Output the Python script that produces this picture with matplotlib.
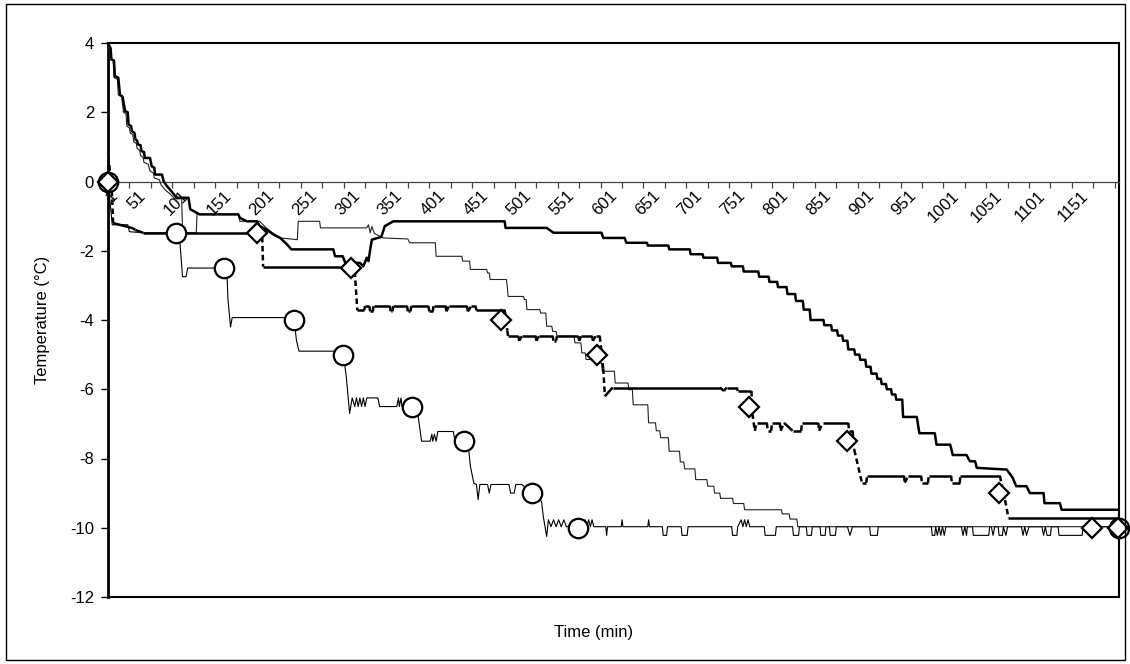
import matplotlib
matplotlib.use('Agg')
import matplotlib.pyplot as plt
import matplotlib.transforms as mtransforms
from matplotlib.collections import LineCollection
from matplotlib.patches import Rectangle
import numpy as np

plt.rcParams['font.family'] = ['Liberation Sans', 'DejaVu Sans']

# %% data: (time in min, temperature in C)

# thin line with circles (fast cooling)
fast = [(1, 0.0), (3, -0.5), (6, -1.25), (24, -1.25), (26, -1.45), (42, -1.48), (80, -1.48), (85, -1.77),
        (88, -2.75), (92, -2.75), (94, -2.5), (128, -2.5), (130, -2.3), (132, -2.5), (136, -2.5), (140, -2.75),
        (141, -3.4), (144, -4.2), (146, -3.93), (218, -3.93), (221, -4.6), (224, -4.9), (275, -4.9), (279, -5.6),
        (283, -6.7), (286, -6.25), (289, -6.5), (291, -6.25), (293, -6.5), (295, -6.25), (297, -6.5), (299, -6.25),
        (301, -6.5), (303, -6.25), (316, -6.25), (318, -6.5), (338, -6.5), (340, -6.25), (341, -6.5), (343, -6.25),
        (344, -6.5), (356, -6.5), (363, -6.78), (367, -7.5), (377, -7.5), (379, -7.3), (380, -7.5), (382, -7.3),
        (384, -7.5), (386, -7.22), (404, -7.22), (406, -7.5), (416, -7.49), (422, -7.75), (424, -8.23), (428, -8.71),
        (431, -8.75), (433, -9.19), (435, -8.75), (444, -8.75), (446, -9.0), (448, -8.75), (469, -8.75), (471, -9.0),
        (475, -9.0), (477, -8.75), (484, -8.75), (496, -9.0), (507, -9.24), (509, -9.67), (513, -10.25), (515, -9.77),
        (518, -9.97), (521, -9.77), (524, -9.97), (527, -9.77), (530, -9.97), (533, -9.77), (536, -9.97), (556, -9.97),
        (558, -9.77), (560, -9.97), (562, -9.77), (564, -9.97), (566, -9.77), (568, -9.97), (582, -9.97), (583, -10.22),
        (584, -9.97), (600, -9.97), (601, -9.77), (602, -9.97), (631, -9.97), (632, -9.77), (633, -9.97), (648, -9.97),
        (649, -10.22), (653, -10.22), (654, -9.97), (670, -9.97), (671, -10.22), (677, -10.22), (678, -9.97),
        (729, -9.97), (730, -10.22), (735, -10.22), (736, -9.97), (740, -9.77), (742, -9.97), (744, -9.77),
        (746, -9.97), (748, -9.77), (750, -9.97), (767, -9.97), (768, -10.22), (780, -10.22), (781, -9.97),
        (800, -9.97), (801, -10.22), (807, -10.22), (808, -9.97), (816, -9.97), (817, -10.22), (822, -10.22),
        (823, -9.97), (832, -9.97), (833, -10.22), (838, -10.22), (839, -9.97), (843, -9.97), (844, -10.22),
        (850, -10.22), (851, -9.97), (864, -9.97), (867, -10.22), (870, -9.97), (890, -9.97), (891, -10.22),
        (899, -10.22), (900, -9.97), (962, -9.97), (963, -10.22), (966, -10.22), (967, -9.97), (969, -10.22),
        (971, -9.97), (973, -10.22), (975, -9.97), (977, -10.22), (979, -9.97), (997, -9.97), (999, -10.22),
        (1001, -9.97), (1003, -10.22), (1004, -9.97), (1010, -9.97), (1011, -10.22), (1029, -10.22), (1030, -9.97),
        (1032, -9.97), (1034, -10.22), (1036, -9.97), (1040, -9.97), (1041, -10.22), (1045, -10.22), (1046, -9.97),
        (1049, -10.22), (1051, -9.97), (1067, -9.97), (1069, -10.22), (1071, -9.97), (1073, -10.22), (1076, -9.97),
        (1091, -9.97), (1093, -10.22), (1095, -9.97), (1097, -10.22), (1101, -10.22), (1102, -9.97), (1110, -9.97),
        (1111, -10.22), (1138, -10.22), (1139, -9.97), (1181, -9.97)]

# thin line, medium cooling
medium = [(1, 4.0), (3, 3.52), (7, 3.5), (8, 3.0), (12, 2.95), (13, 2.5), (17, 2.45), (19, 2.0), (22, 1.95),
          (23, 1.6), (26, 1.55), (27, 1.4), (30, 1.35), (31, 1.15), (34, 1.1), (35, 0.95), (38, 0.9), (39, 0.75),
          (42, 0.7), (43, 0.55), (48, 0.5), (50, 0.3), (54, 0.25), (55, 0.1), (61, 0.05), (63, -0.1), (68, -0.25),
          (73, -0.35), (79, -0.5), (87, -0.5), (88, -1.48), (104, -1.48), (105, -0.9), (108, -0.95), (153, -0.95),
          (155, -1.15), (178, -1.15), (186, -1.35), (194, -1.5), (202, -1.63), (222, -1.68), (223, -1.15),
          (248, -1.15), (249, -1.34), (303, -1.34), (305, -1.25), (307, -1.48), (309, -1.3), (312, -1.5),
          (322, -1.63), (351, -1.66), (353, -1.77), (383, -1.77), (384, -2.16), (414, -2.16), (415, -2.3),
          (423, -2.3), (424, -2.54), (443, -2.54), (444, -2.64), (446, -2.64), (447, -2.83), (466, -2.83),
          (467, -3.03), (468, -3.32), (486, -3.32), (487, -3.41), (489, -3.41), (490, -3.7), (505, -3.7),
          (506, -3.8), (512, -3.8), (513, -4.18), (519, -4.18), (520, -4.33), (524, -4.33), (525, -4.47),
          (545, -4.47), (546, -4.66), (553, -4.66), (554, -4.95), (558, -4.95), (559, -5.14), (570, -5.14),
          (571, -5.24), (577, -5.24), (578, -5.48), (592, -5.48), (593, -5.82), (608, -5.82), (609, -6.01),
          (613, -6.01), (614, -6.45), (631, -6.45), (632, -6.97), (640, -6.97), (641, -7.2), (645, -7.2),
          (646, -7.4), (655, -7.4), (656, -7.79), (668, -7.79), (669, -8.1), (673, -8.1), (674, -8.3), (686, -8.3),
          (687, -8.61), (700, -8.61), (701, -8.8), (708, -8.8), (709, -9.0), (715, -9.0), (716, -9.15), (730, -9.15),
          (731, -9.3), (743, -9.3), (744, -9.48), (787, -9.48), (788, -9.6), (796, -9.6), (797, -9.75), (805, -9.75),
          (806, -9.97), (1181, -9.97)]

# thick dashed line (diamond run)
stepped = [(1, 0.73), (5, 0.0), (7, -1.2), (30, -1.35), (33, -1.4), (42, -1.48), (175, -1.48), (181, -1.6),
           (182, -2.46), (285, -2.46), (289, -2.6), (292, -3.72), (300, -3.72), (301, -3.6), (306, -3.6),
           (307, -3.75), (310, -3.75), (311, -3.6), (330, -3.6), (331, -3.75), (333, -3.75), (334, -3.6),
           (350, -3.6), (351, -3.75), (354, -3.75), (355, -3.6), (375, -3.6), (376, -3.75), (380, -3.75),
           (381, -3.6), (395, -3.6), (396, -3.75), (399, -3.6), (420, -3.6), (421, -3.75), (425, -3.6), (430, -3.6),
           (431, -3.72), (464, -3.72), (467, -4.3), (468, -4.47), (480, -4.47), (481, -4.6), (484, -4.47),
           (500, -4.47), (501, -4.6), (504, -4.47), (520, -4.47), (521, -4.6), (524, -4.6), (525, -4.47),
           (550, -4.47), (551, -4.6), (553, -4.47), (566, -4.47), (567, -4.6), (570, -4.47), (575, -4.47),
           (579, -5.4), (581, -6.2), (590, -5.95), (715, -5.95), (720, -6.05), (723, -5.95), (735, -5.95),
           (736, -6.05), (752, -6.05), (753, -6.7), (756, -7.2), (758, -6.97), (770, -6.97), (771, -7.2),
           (775, -7.2), (776, -6.97), (785, -6.97), (786, -7.2), (790, -6.97), (800, -7.2), (810, -7.2),
           (811, -6.97), (830, -6.97), (831, -7.2), (835, -6.97), (865, -6.97), (866, -7.2), (870, -7.2),
           (872, -7.75), (881, -8.7), (886, -8.7), (887, -8.5), (930, -8.5), (931, -8.7), (935, -8.5), (950, -8.5),
           (951, -8.7), (958, -8.7), (959, -8.5), (985, -8.5), (986, -8.7), (995, -8.7), (996, -8.5), (1042, -8.5),
           (1048, -9.2), (1052, -9.72), (1181, -9.72)]

# thick solid line (slow cooling)
slow = [(1, 4.0), (4, 3.85), (5, 3.52), (8, 3.5), (9, 3.04), (13, 3.0), (15, 2.5), (18, 2.45), (21, 2.03),
        (24, 2.0), (25, 1.65), (28, 1.6), (29, 1.45), (32, 1.4), (33, 1.21), (35, 1.18), (36, 1.07), (39, 1.05),
        (40, 0.88), (43, 0.85), (44, 0.68), (50, 0.68), (52, 0.44), (55, 0.4), (56, 0.2), (64, 0.2), (66, 0.0),
        (70, -0.14), (75, -0.28), (81, -0.47), (95, -0.47), (97, -0.8), (108, -0.95), (153, -0.95), (155, -1.05),
        (163, -1.15), (175, -1.15), (178, -1.29), (186, -1.39), (194, -1.53), (202, -1.63), (210, -1.82),
        (215, -1.96), (264, -1.96), (266, -2.16), (275, -2.16), (278, -2.35), (295, -2.35), (299, -2.45),
        (303, -2.2), (305, -2.3), (307, -1.97), (309, -1.68), (320, -1.6), (324, -1.29), (334, -1.15),
        (464, -1.15), (465, -1.34), (513, -1.34), (521, -1.48), (577, -1.48), (579, -1.63), (604, -1.63),
        (606, -1.77), (630, -1.77), (631, -1.85), (655, -1.85), (656, -1.96), (680, -1.96), (681, -2.1),
        (695, -2.1), (696, -2.2), (712, -2.2), (713, -2.35), (728, -2.35), (729, -2.45), (742, -2.45), (743, -2.6),
        (760, -2.6), (761, -2.75), (772, -2.75), (773, -2.9), (782, -2.9), (783, -3.05), (793, -3.05), (794, -3.25),
        (803, -3.25), (804, -3.45), (812, -3.45), (813, -3.7), (820, -3.7), (821, -4.0), (836, -4.0), (837, -4.15),
        (845, -4.15), (846, -4.3), (852, -4.3), (853, -4.45), (858, -4.45), (859, -4.6), (864, -4.6), (865, -4.85),
        (872, -4.85), (873, -5.0), (878, -5.0), (879, -5.15), (885, -5.15), (886, -5.35), (891, -5.35),
        (892, -5.55), (898, -5.55), (899, -5.7), (903, -5.7), (904, -5.85), (909, -5.85), (910, -6.0), (915, -6.0),
        (916, -6.15), (920, -6.15), (921, -6.3), (928, -6.3), (929, -6.8), (945, -6.8), (948, -7.27), (966, -7.27),
        (968, -7.6), (984, -7.6), (987, -7.9), (1003, -7.9), (1007, -8.08), (1013, -8.08), (1015, -8.27),
        (1050, -8.32), (1057, -8.56), (1061, -8.8), (1073, -8.8), (1077, -9.0), (1093, -9.0), (1094, -9.29),
        (1112, -9.29), (1114, -9.48), (1181, -9.48)]

circle_t = [1, 80, 136, 218, 275, 356, 416, 496, 549, 1181]
circle_v = [0, -1.5, -2.5, -4, -5, -6.5, -7.5, -9, -10, -10]
diamond_t = [1, 175, 285, 460, 572, 749, 863, 1041, 1150, 1180]
diamond_v = [0, -1.5, -2.5, -4, -5, -6.5, -7.5, -9, -10, -10]

x_tick_labels = ['1', '51', '101', '151', '201', '251', '301', '351', '401', '451', '501', '551', '601',
                 '651', '701', '751', '801', '851', '901', '951', '1001', '1051', '1101', '1151']
y_ticks = [-12, -10, -8, -6, -4, -2, 0, 2, 4]

# %% figure
W, H = 1130, 664
fig = plt.figure(figsize=(W / 100, H / 100), dpi=100)
ax = fig.add_axes([108 / W, 67 / H, 1011 / W, 554 / H])
ax.set_xlim(1, 1181)
ax.set_ylim(-12, 4)

t, v = np.array(fast).T
ax.plot(t, v, color='black', lw=0.8, zorder=3)
t, v = np.array(medium).T
ax.plot(t, v, color='#222222', lw=0.8, zorder=3)
t, v = np.array(slow).T
ax.plot(t, v, color='black', lw=1.8, zorder=4)

# dashed line: steep segments dashed, flat runs look solid (like the spreadsheet render)
t, v = np.array(stepped).T
xy = np.column_stack([t, v])
px = ax.transData.transform(xy)
segs = np.stack([xy[:-1], xy[1:]], axis=1)
d = np.abs(np.diff(px, axis=0))
styles = [(0, (2.2, 1.4)) if dy > dx + 1 else 'solid' for dx, dy in d]
ax.add_collection(LineCollection(segs, colors='black', linewidths=1.8, linestyles=styles,
                                 capstyle='butt', zorder=4))

ax.plot(circle_t, circle_v, linestyle='none', marker='o', ms=14, mfc='white', mec='black', mew=1.6,
        clip_on=False, zorder=6)
ax.plot(diamond_t, diamond_v, linestyle='none', marker='D', ms=10, mfc='white', mec='black', mew=1.6,
        clip_on=False, zorder=7)

# axes look
ax.spines['bottom'].set_position(('data', 0))
ax.spines['bottom'].set_color('#444444')
ax.spines['bottom'].set_linewidth(0.9)
ax.spines['left'].set_linewidth(2)
ax.spines['top'].set_linewidth(1.5)
ax.spines['right'].set_linewidth(1.5)
ax.axhline(-12, color='black', lw=1.5, clip_on=False, zorder=8)

label_pos = [1 + 50 * i for i in range(len(x_tick_labels))]
ax.set_xticks(label_pos)
ax.set_xticks([26 + 50 * i for i in range(24)], minor=True)
ax.set_xticklabels(x_tick_labels, rotation=45, ha='right', va='top', rotation_mode='anchor', fontsize=12)
ax.tick_params(axis='x', which='both', direction='out', length=4, width=0.9, color='#444444', pad=0)
for i, lab in enumerate(ax.get_xticklabels()):
    dx = 0.02 if i == 0 else -0.13
    lab.set_transform(lab.get_transform() + mtransforms.ScaledTranslation(dx, -0.01, fig.dpi_scale_trans))

ax.set_yticks(y_ticks)
ax.set_yticklabels([str(y) for y in y_ticks], fontsize=12)
ax.tick_params(axis='y', direction='out', length=5, width=1, pad=5)

fig.text(594 / W, 1 - 632 / H, 'Time (min)', ha='center', va='center', fontsize=12)
fig.text(42 / W, 1 - 320 / H, 'Temperature (°C)', ha='center', va='center', rotation=90, fontsize=12)

fig.add_artist(Rectangle((6 / W, 4 / H), 1119 / W, 656 / H, transform=fig.transFigure,
                         fill=False, ec='black', lw=1))

fig.savefig('out.png', dpi=100)
